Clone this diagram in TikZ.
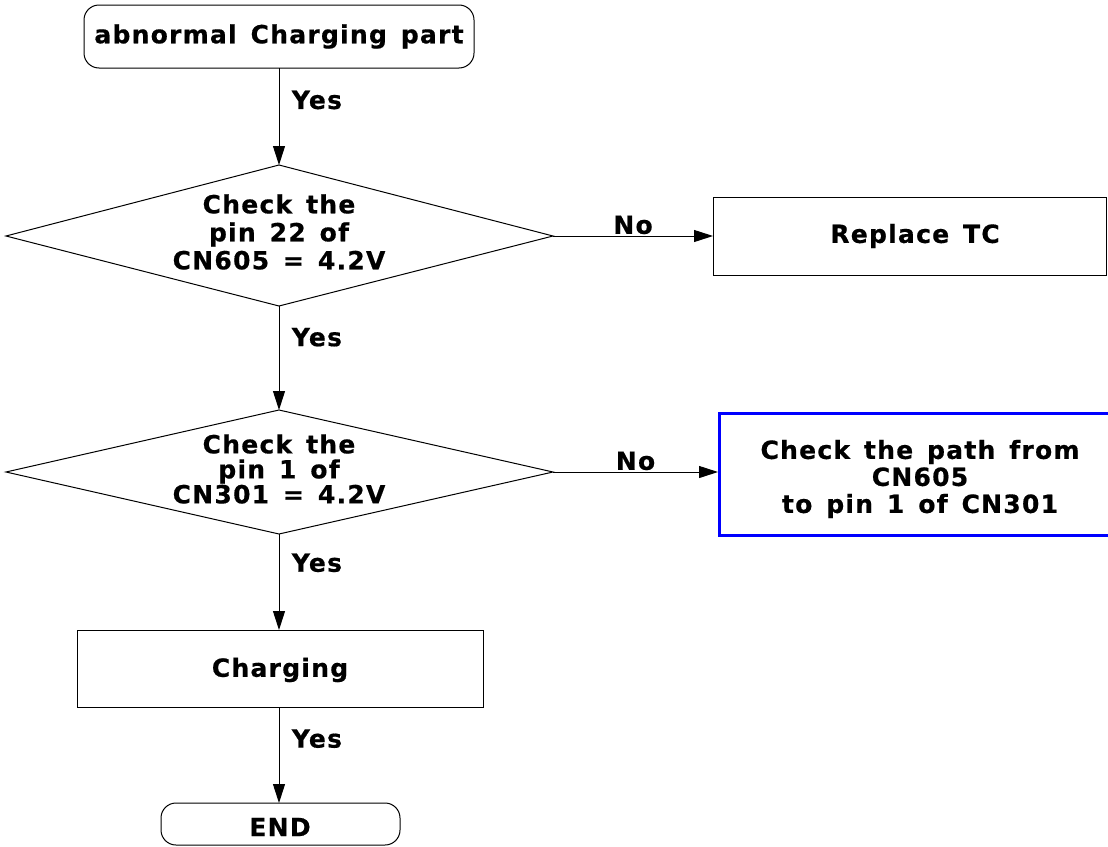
\documentclass[tikz,border=0pt]{standalone}
\usepackage{fontspec}
\setmainfont{DejaVu Sans}[LetterSpace=5,WordSpace=1.4,BoldFeatures={FakeBold=0.6}]
\usetikzlibrary{arrows.meta}
\begin{document}
\begin{tikzpicture}[x=1pt,y=-1pt,
  txt/.style={font=\bfseries\fontsize{25}{28}\selectfont, align=center},
  conn/.style={draw, line width=1pt, -{Triangle[length=19pt,width=12pt]}},
  lbl/.style={font=\bfseries\fontsize{25}{28}\selectfont, anchor=west}]
\clip (0,0) rectangle (1108,846);
\fill[white] (0,0) rectangle (1108,846);
% nodes
\draw[line width=1pt, rounded corners=15pt] (84,5) rectangle (474,68);
\node[txt] (start) at (279,36.5) {abnormal Charging part};
\coordinate (startb) at (279,68);
\draw[line width=1pt] (279,165) -- (553,236) -- (279,306) -- (6,236) -- cycle;
\node[txt] (d1) at (279,232) {Check the\\pin 22 of\\CN605 = 4.2V};
\coordinate (d1t) at (279,165);
\coordinate (d1r) at (553,236);
\coordinate (d1b) at (279,306);
\draw[line width=1pt] (713,197) rectangle (1106,275);
\node[txt] (tc) at (915,236) {Replace TC};
\coordinate (tcl) at (713,236);
\draw[line width=1pt] (279,410) -- (553,472) -- (279,534) -- (6,472) -- cycle;
\node[txt, font=\bfseries\fontsize{25}{25}\selectfont] (d2) at (279,469) {Check the\\pin 1 of\\CN301 = 4.2V};
\coordinate (d2t) at (279,410);
\coordinate (d2r) at (553,472);
\coordinate (d2b) at (279,534);
\draw[blue, line width=3pt] (719,413) rectangle (1125,535);
\node[txt, font=\bfseries\fontsize{25}{27}\selectfont] (path) at (920,479) {Check the path from\\CN605\\to pin 1 of CN301};
\coordinate (pathl) at (718,472);
\draw[line width=1pt] (77,630) rectangle (483,707);
\node[txt] (chg) at (280,670) {Charging};
\coordinate (chgt) at (279,630);
\coordinate (chgb) at (279,707);
\draw[line width=1pt, rounded corners=15pt] (161,803) rectangle (400,845);
\node[txt] (endn) at (280,827) {END};
\coordinate (endt) at (279,803);
% connectors
\draw[conn] (startb) -- (d1t) node[lbl, pos=0.33, xshift=9pt] {Yes};
\draw[conn] (d1r) -- (tcl) node[lbl, pos=0.5, above, anchor=south, yshift=-2pt] {No};
\draw[conn] (d1b) -- (d2t) node[lbl, pos=0.3, xshift=9pt] {Yes};
\draw[conn] (d2r) -- (pathl) node[lbl, pos=0.5, above, anchor=south, yshift=-2pt] {No};
\draw[conn] (d2b) -- (chgt) node[lbl, pos=0.3, xshift=9pt] {Yes};
\draw[conn] (chgb) -- (endt) node[lbl, pos=0.33, xshift=9pt] {Yes};
\end{tikzpicture}
\end{document}
